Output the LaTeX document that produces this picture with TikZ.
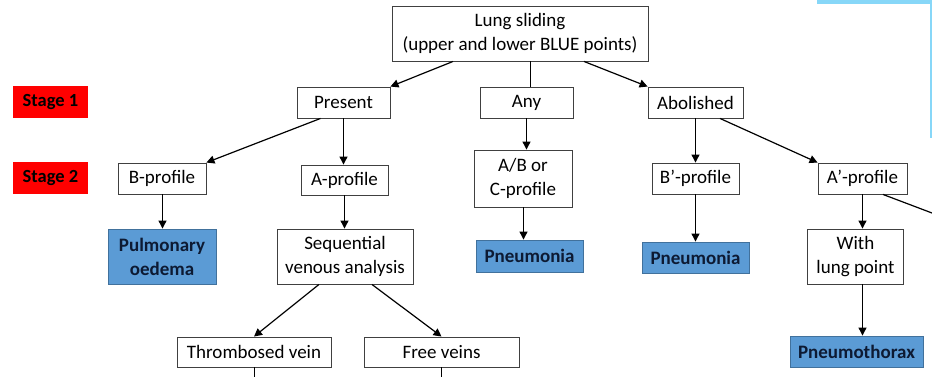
\documentclass[tikz,border=0pt]{standalone}
\usepackage{fontspec}
\setmainfont{Carlito}
\usetikzlibrary{arrows.meta}
\definecolor{boxline}{HTML}{404040}
\definecolor{bluefill}{HTML}{5B9BD5}
\definecolor{blueline}{HTML}{41719C}
\definecolor{bluetext}{HTML}{0D1A33}
\definecolor{stagered}{HTML}{FF0000}
\definecolor{skyline}{HTML}{87D7F8}
\begin{document}
\begin{tikzpicture}[x=1pt,y=-1pt,
  box/.style={draw=boxline, line width=0.9pt, fill=white, inner sep=0pt, align=center, font=\fontsize{19}{24}\selectfont},
  res/.style={draw=blueline, line width=0.9pt, fill=bluefill, inner sep=0pt, align=center, text=bluetext, font=\fontsize{19}{24}\selectfont\bfseries},
  stagebox/.style={fill=stagered, inner sep=0pt, font=\fontsize{18.5}{22}\selectfont\bfseries, minimum width=75pt, minimum height=32pt},
  arr/.style={draw=black, line width=1.2pt, -{Triangle[length=8pt,width=8pt]}},
  ln/.style={draw=black, line width=1.2pt}]
\useasboundingbox (0,0) rectangle (932,377);
\fill[white] (0,0) rectangle (932,377);

% decorative light-blue frame lines
\fill[skyline] (817,0) rectangle (932,4);
\fill[skyline] (929.5,0) rectangle (932,138);

% stage labels
\node[stagebox] (s1) at (50.5,102) {Stage 1};
\node[stagebox] (s2) at (50.5,178) {Stage 2};

% nodes
\node[box, minimum width=256pt, minimum height=55pt] (ls) at (520,33.5) {Lung sliding\\(upper and lower BLUE points)};
\node[box, minimum width=93pt, minimum height=31pt] (pr) at (343.5,102.5) {Present};
\node[box, minimum width=93pt, minimum height=31pt] (any) at (526.5,102.5) {Any};
\node[box, minimum width=95pt, minimum height=31pt] (ab) at (695.5,102.5) {Abolished};

\node[box, minimum width=88pt, minimum height=31pt] (bp) at (162,178.5) {B-profile};
\node[box, minimum width=87pt, minimum height=30pt] (apf) at (344.5,180) {A-profile};
\node[box, minimum width=98pt, minimum height=57pt] (abc) at (523,178.5) {A/B or\\C-profile};
\node[box, minimum width=87pt, minimum height=31pt] (bpp) at (695.5,178.5) {B’-profile};
\node[box, minimum width=89pt, minimum height=31pt] (app) at (862.5,178.5) {A’-profile};

\node[res, minimum width=108pt, minimum height=55pt] (pul) at (162,256.5) {Pulmonary\\oedema};
\node[box, minimum width=136pt, minimum height=55pt] (seq) at (345,256.5) {Sequential\\venous analysis};
\node[res, minimum width=107pt, minimum height=32pt] (pn1) at (529.5,256) {Pneumonia};
\node[res, minimum width=107pt, minimum height=31pt] (pn2) at (695.5,257.5) {Pneumonia};
\node[box, minimum width=96pt, minimum height=55pt] (wlp) at (855.5,256.5) {With\\lung point};

\node[box, minimum width=154pt, minimum height=30pt] (thr) at (254,352) {Thrombosed vein};
\node[box, minimum width=155pt, minimum height=30pt] (fv) at (441.5,352) {Free veins};
\node[res, minimum width=133pt, minimum height=31pt] (ptx) at (856.5,351.5) {Pneumothorax};

% free ends
\coordinate (offr) at (932,213);
\coordinate (thrb) at (254.5,377);
\coordinate (fvb) at (441.5,377);

% connectors
\draw[arr] ([xshift=-67pt]ls.south) -- (pr.north east);
\draw[ln] ([xshift=10.5pt]ls.south) -- ([xshift=10.5pt]ls.south |- any.north);
\draw[arr] ([xshift=64pt]ls.south) -- (ab.north west);

\draw[arr] ([xshift=-23pt]pr.south) -- (bp.north east);
\draw[arr] (pr.south) -- (pr.south |- apf.north);
\draw[arr] (any.south) -- (any.south |- abc.north);
\draw[arr] (ab.south) -- (ab.south |- bpp.north);
\draw[arr] ([xshift=24.5pt]ab.south) -- (app.north west);

\draw[arr] ([xshift=0.5pt]bp.south) -- ([xshift=0.5pt]bp.south |- pul.north);
\draw[arr] (apf.south) -- (apf.south |- seq.north);
\draw[arr] ([xshift=0.5pt]abc.south) -- ([xshift=0.5pt]abc.south |- pn1.north);
\draw[arr] (bpp.south) -- (bpp.south |- pn2.north);
\draw[arr] (app.south) -- (app.south |- wlp.north);
\draw[ln] ([xshift=20.5pt]app.south) -- (offr);

\draw[arr] ([xshift=-26pt]seq.south) -- (thr.north);
\draw[arr] ([xshift=27pt]seq.south) -- (fv.north);
\draw[arr] (app.south |- wlp.south) -- (app.south |- ptx.north);

\draw[ln] (thr.south -| thrb) -- (thrb);
\draw[ln] (fv.south) -- (fvb);
\end{tikzpicture}
\end{document}
